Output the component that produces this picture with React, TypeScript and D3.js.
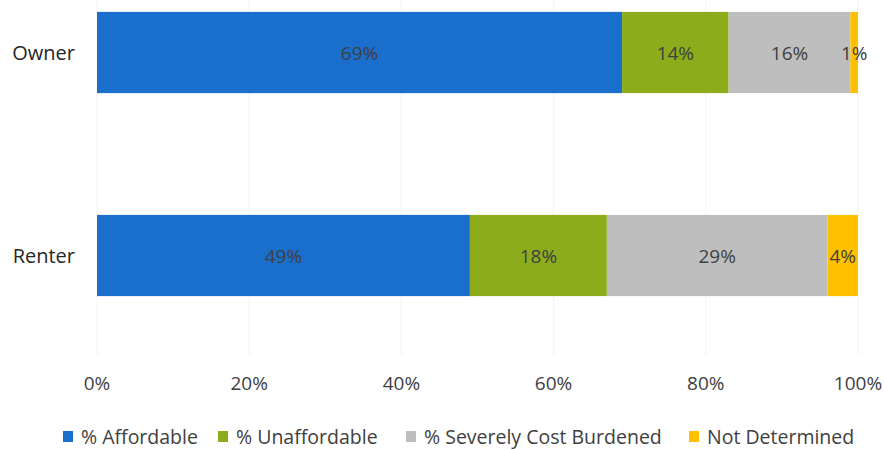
import React from "react";
import * as d3 from "d3";

const categories = ["Owner", "Renter"];
const seriesNames = ["% Affordable", "% Unaffordable", "% Severely Cost Burdened", "Not Determined"];
const affordable = [69, 49];
const unaffordable = [14, 18];
const severe = [16, 29];
const notDetermined = [1, 4];
const tickValues = [0, 20, 40, 60, 80, 100];
const colors = ["#1a6fcc", "#8cac1c", "#bebebe", "#ffc000"];

const W = 884;
const H = 450;
const FONT = "'Open Sans', 'DejaVu Sans', sans-serif";

export default function App() {
  const seriesValues = [affordable, unaffordable, severe, notDetermined];
  const x = d3.scaleLinear().domain([0, 100]).range([97, 858]);
  const y = d3
    .scaleBand<string>()
    .domain(categories)
    .range([-49, 357])
    .paddingInner(0.6)
    .paddingOuter(0.3);

  const rows = categories.map((c, i) => {
    const obj: any = { cat: c };
    seriesNames.forEach((s, k) => (obj[s] = seriesValues[k][i]));
    return obj;
  });
  const stacked = d3.stack<any>().keys(seriesNames)(rows);
  const legendStarts = [63, 218, 406, 689];

  return (
    <svg
      width={W}
      height={H}
      style={{ position: "absolute", left: 0, top: 0, background: "#fff" }}
      fontFamily={FONT}
    >
      {tickValues.map((t) => (
        <line key={"g" + t} x1={x(t)} x2={x(t)} y1={0} y2={355} stroke="#f3f3f3" strokeWidth={1} />
      ))}
      {stacked.map((layer, k) =>
        layer.map((d, i) => (
          <rect
            key={k + "-" + i}
            x={x(d[0])}
            y={y(categories[i])!}
            width={x(d[1]) - x(d[0])}
            height={y.bandwidth()}
            fill={colors[k]}
          />
        ))
      )}
      {stacked.map((layer, k) =>
        layer.map((d, i) => (
          <text
            key={"l" + k + "-" + i}
            x={(x(d[0]) + x(d[1])) / 2}
            y={y(categories[i])! + y.bandwidth() / 2}
            textAnchor="middle"
            dominantBaseline="central"
            fontSize={19}
            fill="#404040"
          >
            {d[1] - d[0]}%
          </text>
        ))
      )}
      {categories.map((c) => (
        <text
          key={"c" + c}
          x={75}
          y={y(c)! + y.bandwidth() / 2}
          textAnchor="end"
          dominantBaseline="central"
          fontSize={20}
          fill="#262626"
        >
          {c}
        </text>
      ))}
      {tickValues.map((t) => (
        <text
          key={"t" + t}
          x={x(t)}
          y={383}
          textAnchor="middle"
          dominantBaseline="central"
          fontSize={19}
          fill="#404040"
        >
          {t}%
        </text>
      ))}
      {seriesNames.map((s, k) => (
        <g key={"lg" + s}>
          <rect x={legendStarts[k]} y={431} width={10} height={11} fill={colors[k]} />
          <text x={legendStarts[k] + 18} y={436} dominantBaseline="central" fontSize={19.5} fill="#404040">
            {s}
          </text>
        </g>
      ))}
    </svg>
  );
}
